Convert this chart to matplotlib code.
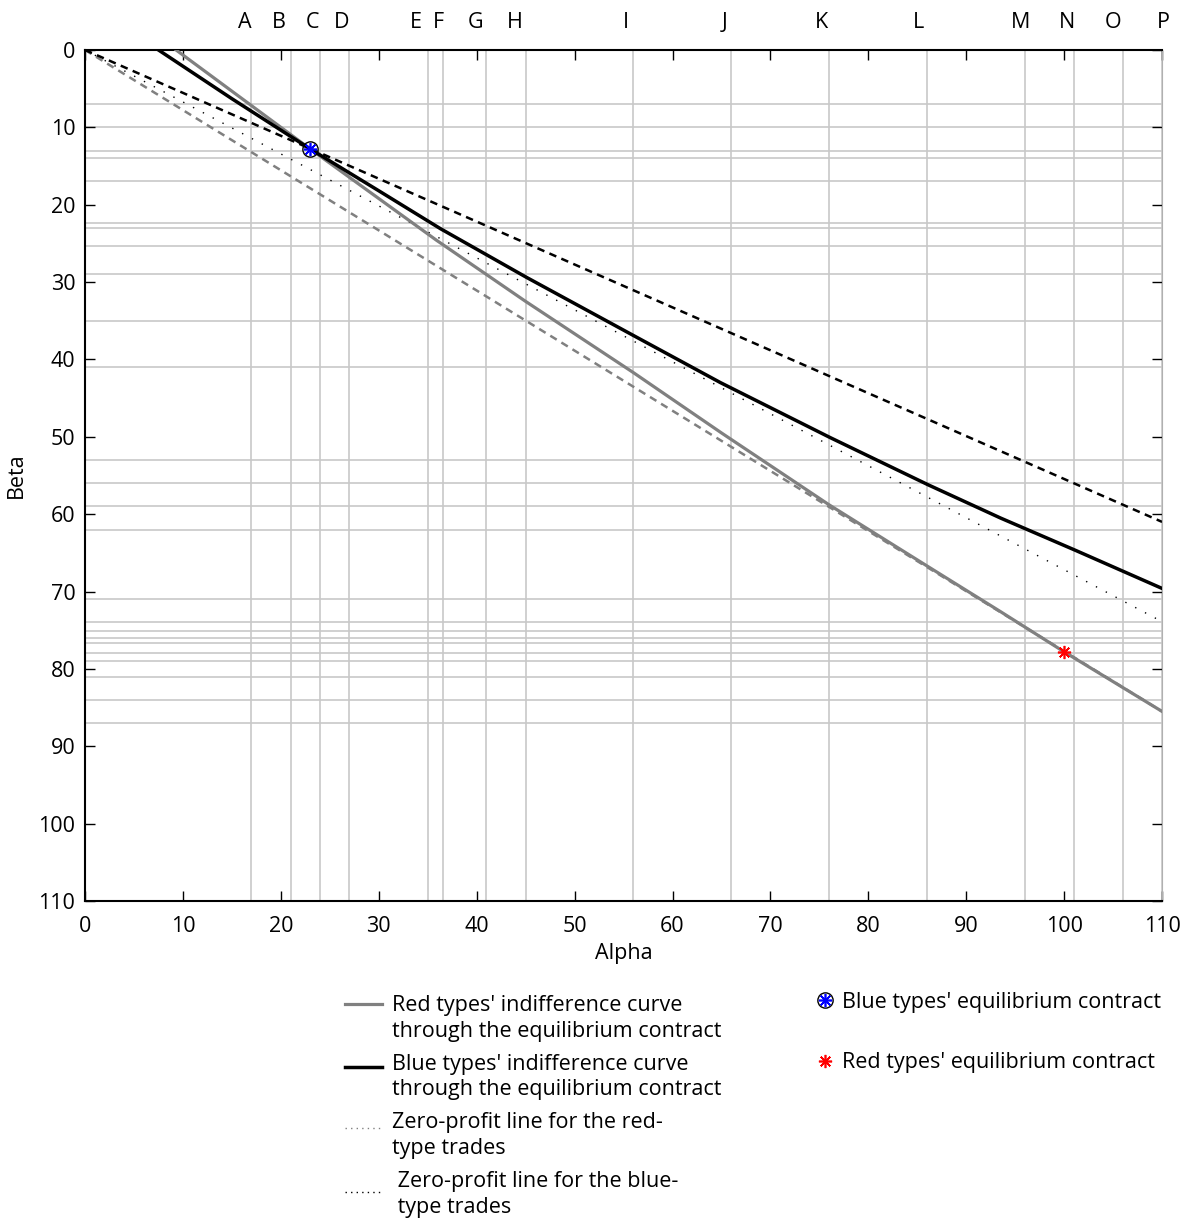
import numpy as np
import matplotlib
matplotlib.use('Agg')
import matplotlib.pyplot as plt
from matplotlib.lines import Line2D
from matplotlib.legend_handler import HandlerLine2D

plt.rcParams['font.family'] = ['Open Sans', 'DejaVu Sans']
FS = 15.5

# --- data (alpha, beta) ---
red_ic_alpha = [9.3, 23, 35.9, 45, 56, 65, 76, 86, 93.5, 100, 110]
red_ic_beta = [0, 12.8, 24.6, 32.5, 41.7, 49.5, 58.8, 66.7, 72.6, 77.8, 85.5]

blue_ic_alpha = [7.5, 15, 23, 30, 36.3, 45.1, 56, 64.9, 76.1, 86.1, 93.5, 101.2, 110]
blue_ic_beta = [0, 6.3, 12.8, 18.2, 23.1, 29.4, 36.9, 43.0, 50.1, 56.2, 60.5, 64.7, 69.6]

zp_alpha = [0, 110]
zp_red_beta = [0, 85.5]
zp_blue_beta = [0, 61.0]
zp_pool_beta = [0, 73.9]

blue_eq = (23, 12.8)
red_eq = (100, 77.8)

vgrid = [17, 21, 24, 27, 35, 36.6, 41, 45, 56, 66, 76, 86, 96, 101, 106, 110]
hgrid = [7, 10, 13, 14, 17, 22.3, 23, 25.4, 29, 35, 41, 53, 56, 59, 62,
         71, 74, 75.1, 76, 76.7, 78, 79, 81, 84, 87]

top_letters = list('ABCDEFGHIJKLMNOP')
letter_pos = [16.35, 19.8, 23.2, 26.2, 33.8, 36.1, 39.9, 43.9,
              55.2, 65.3, 75.2, 85.1, 95.5, 100.3, 105.0, 110.1]

ticks = list(range(0, 111, 10))


# legend line sample sitting nearer the first text line than the centre
class HandlerShifted(HandlerLine2D):
    def __init__(self, dy, **kw):
        super().__init__(**kw)
        self.dy = dy

    def create_artists(self, legend, orig_handle, xdescent, ydescent,
                       width, height, fontsize, trans):
        arts = super().create_artists(legend, orig_handle, xdescent, ydescent,
                                      width, height, fontsize, trans)
        for a in arts:
            a.set_ydata(np.asarray(a.get_ydata(), dtype=float) + self.dy)
        return arts


# --- figure ---
fig = plt.figure(figsize=(12.01, 12.22), dpi=100)
ax = fig.add_axes([0.0708, 0.2627, 0.8968, 0.6964])

for v in vgrid:
    ax.axvline(v, color='#c8c8c8', lw=1.2, zorder=0)
for h in hgrid:
    ax.axhline(h, color='#c8c8c8', lw=1.2, zorder=0)

ax.plot(zp_alpha, zp_red_beta, color='#808080', lw=1.8, dashes=(3, 2.2), zorder=2)
ax.plot(zp_alpha, zp_pool_beta, color='black', lw=1.0, ls=(0, (1, 7)), zorder=2)
ax.plot(zp_alpha, zp_blue_beta, color='black', lw=1.8, dashes=(3, 2.2), zorder=2)
ax.plot(red_ic_alpha, red_ic_beta, color='#808080', lw=2.3, zorder=3)
ax.plot(blue_ic_alpha, blue_ic_beta, color='black', lw=2.5, zorder=3)

ax.plot(*blue_eq, marker='o', ms=11, mfc='none', mec='black', mew=1.0, zorder=5)
ax.plot(*blue_eq, marker=(8, 2, 0), ms=9.5, mec='blue', mew=1.2, zorder=6)
ax.plot(*red_eq, marker=(8, 2, 0), ms=9.5, mec='red', mew=1.2, zorder=6)

for lab, x in zip(top_letters, letter_pos):
    ax.text(x, -3.5, lab, ha='center', va='center', fontsize=FS, clip_on=False)

ax.set_xlim(0, 110)
ax.set_ylim(110, 0)
ax.set_xticks(ticks)
ax.set_yticks(ticks)
ax.tick_params(direction='in', top=True, right=True, length=7, width=1,
               labelsize=FS)
ax.tick_params(axis='x', pad=11)
ax.tick_params(axis='y', pad=7)
for s in ['left', 'bottom', 'top']:
    ax.spines[s].set_linewidth(1.5)
ax.spines['right'].set_color('#b0b0b0')
ax.set_xlabel('Alpha', fontsize=FS, labelpad=4)
ax.set_ylabel('Beta', fontsize=FS, labelpad=8)

# --- legends ---
h_red = Line2D([], [], color='#808080', lw=2.3)
h_blue = Line2D([], [], color='black', lw=2.5)
h_zred = Line2D([], [], color='#808080', lw=1.0, ls=(0, (1, 3)))
h_zblue = Line2D([], [], color='black', lw=1.0, ls=(0, (1, 3)))
left_labels = [
    "Red types' indifference curve\nthrough the equilibrium contract",
    "Blue types' indifference curve\nthrough the equilibrium contract",
    "Zero-profit line for the red-\ntype trades",
    " Zero-profit line for the blue-\n type trades",
]
leg1 = fig.legend([h_red, h_blue, h_zred, h_zblue], left_labels,
                  handler_map={h_red: HandlerShifted(10.5), h_blue: HandlerShifted(7.3),
                               h_zred: HandlerShifted(5.5), h_zblue: HandlerShifted(2.2)},
                  loc='upper left', bbox_to_anchor=(0.2873, 0.1858),
                  frameon=False, fontsize=FS, handlelength=1.7, handletextpad=0.5,
                  labelspacing=0.55, borderpad=0, borderaxespad=0)
for t in leg1.get_texts():
    t.set_linespacing(1.3)

blue_h = (Line2D([], [], marker='o', ms=11, mfc='none', mec='black', mew=1.0, ls='none'),
          Line2D([], [], marker=(8, 2, 0), ms=9.5, mec='blue', mew=1.2, ls='none'))
red_h = Line2D([], [], marker=(8, 2, 0), ms=9.5, mec='red', mew=1.2, ls='none')
fig.legend([blue_h, red_h],
           ["Blue types' equilibrium contract", "Red types' equilibrium contract"],
           loc='upper left', bbox_to_anchor=(0.6799, 0.1882),
           frameon=False, fontsize=FS, handlelength=0.8, handletextpad=0.4,
           labelspacing=1.83, borderpad=0, borderaxespad=0)

fig.savefig('out.png', dpi=100)
